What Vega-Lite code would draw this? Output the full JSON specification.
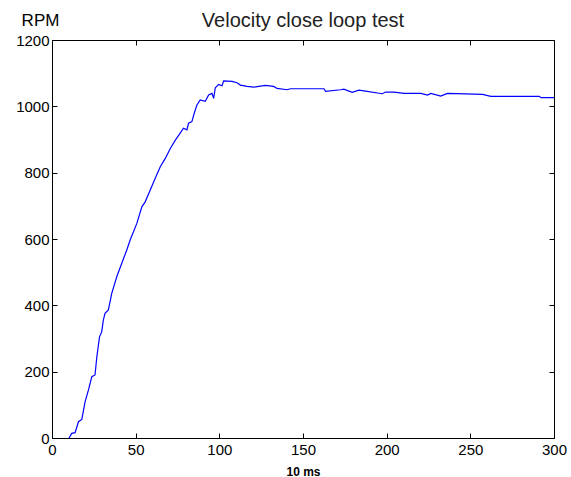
{
  "$schema": "https://vega.github.io/schema/vega-lite/v6.json",
  "width": 502,
  "height": 398,
  "autosize": "none",
  "padding": {"left": 52, "top": 40, "right": 17, "bottom": 39},
  "background": "white",
  "config": {
    "font": "Liberation Sans",
    "view": {"stroke": "black", "strokeWidth": 1},
    "axis": {"grid": false, "domain": false, "tickColor": "black", "tickSize": -5, "labelColor": "black", "labelFontSize": 15, "labelFont": "Liberation Sans", "labelFlush": false, "labelOverlap": false, "titleColor": "black", "titleFont": "Liberation Sans"}
  },
  "title": {"text": "Velocity close loop test", "fontSize": 20, "fontWeight": "normal", "font": "Liberation Sans", "color": "#222222", "offset": -17, "dy": 3},
  "data": {"values": [
    {"t": 10.2, "rpm": 0}, {"t": 11.8, "rpm": 14}, {"t": 13.8, "rpm": 16}, {"t": 15.8, "rpm": 49},
    {"t": 17.8, "rpm": 56}, {"t": 19.8, "rpm": 110}, {"t": 21.8, "rpm": 145}, {"t": 23.8, "rpm": 185},
    {"t": 25.7, "rpm": 190}, {"t": 26.8, "rpm": 245}, {"t": 28.4, "rpm": 305}, {"t": 29.7, "rpm": 320},
    {"t": 30.7, "rpm": 356}, {"t": 31.7, "rpm": 376}, {"t": 33.7, "rpm": 386}, {"t": 35.7, "rpm": 436},
    {"t": 38.7, "rpm": 486}, {"t": 41.7, "rpm": 527}, {"t": 44.7, "rpm": 567}, {"t": 46.7, "rpm": 597},
    {"t": 50.7, "rpm": 647}, {"t": 53.7, "rpm": 697}, {"t": 55.7, "rpm": 712}, {"t": 58.7, "rpm": 748},
    {"t": 61.7, "rpm": 783}, {"t": 64.7, "rpm": 818}, {"t": 67.7, "rpm": 843}, {"t": 70.7, "rpm": 873},
    {"t": 73.7, "rpm": 898}, {"t": 76.6, "rpm": 919}, {"t": 78.6, "rpm": 934}, {"t": 80.6, "rpm": 929},
    {"t": 81.6, "rpm": 949}, {"t": 83.6, "rpm": 954}, {"t": 85, "rpm": 979}, {"t": 86.6, "rpm": 1004},
    {"t": 88.6, "rpm": 1019}, {"t": 91.6, "rpm": 1015}, {"t": 93.6, "rpm": 1034}, {"t": 95.6, "rpm": 1039},
    {"t": 96.6, "rpm": 1024}, {"t": 97.6, "rpm": 1056}, {"t": 99.6, "rpm": 1066}, {"t": 101.6, "rpm": 1062},
    {"t": 102.6, "rpm": 1077}, {"t": 107.6, "rpm": 1075}, {"t": 110.6, "rpm": 1071}, {"t": 112.6, "rpm": 1064},
    {"t": 116.6, "rpm": 1060}, {"t": 120.6, "rpm": 1058}, {"t": 127.5, "rpm": 1063}, {"t": 132.5, "rpm": 1060},
    {"t": 134.5, "rpm": 1054}, {"t": 140.5, "rpm": 1050}, {"t": 142.5, "rpm": 1053}, {"t": 162.5, "rpm": 1053},
    {"t": 163.5, "rpm": 1045}, {"t": 172.5, "rpm": 1050}, {"t": 174.4, "rpm": 1052}, {"t": 179.4, "rpm": 1042},
    {"t": 183.4, "rpm": 1049}, {"t": 187.4, "rpm": 1046}, {"t": 197.4, "rpm": 1038}, {"t": 199.4, "rpm": 1043},
    {"t": 204.4, "rpm": 1043}, {"t": 210.4, "rpm": 1039}, {"t": 220.4, "rpm": 1039}, {"t": 224.4, "rpm": 1034},
    {"t": 226.4, "rpm": 1039}, {"t": 232.3, "rpm": 1031}, {"t": 236.3, "rpm": 1039}, {"t": 257.3, "rpm": 1036},
    {"t": 262.3, "rpm": 1030}, {"t": 291.2, "rpm": 1030}, {"t": 292.2, "rpm": 1026}, {"t": 300, "rpm": 1026}
  ]},
  "layer": [
    {
      "mark": {"type": "line", "color": "#0000ff", "strokeWidth": 1.2},
      "encoding": {
        "x": {"field": "t", "type": "quantitative", "scale": {"domain": [0, 300], "nice": false},
              "axis": {"orient": "bottom", "values": [0, 50, 100, 150, 200, 250, 300], "format": "d", "title": "10 ms", "titleFontSize": 12, "titleFontWeight": "bold", "titlePadding": 9, "labelPadding": 9}},
        "y": {"field": "rpm", "type": "quantitative", "scale": {"domain": [0, 1200], "nice": false},
              "axis": {"orient": "left", "values": [0, 200, 400, 600, 800, 1000, 1200], "format": "d", "title": "RPM", "titleAngle": 0, "titleFontSize": 17, "titleFontWeight": "normal", "titleX": -12, "titleY": -15, "titleAlign": "center", "titleBaseline": "alphabetic", "labelPadding": 8}}
      }
    },
    {
      "mark": {"type": "line", "color": "#0000ff", "strokeWidth": 1.2, "opacity": 0},
      "encoding": {
        "x": {"field": "t", "type": "quantitative", "scale": {"domain": [0, 300], "nice": false},
              "axis": {"orient": "top", "values": [0, 50, 100, 150, 200, 250, 300], "labels": false, "title": null}},
        "y": {"field": "rpm", "type": "quantitative", "scale": {"domain": [0, 1200], "nice": false},
              "axis": {"orient": "right", "values": [0, 200, 400, 600, 800, 1000, 1200], "labels": false, "title": null}}
      }
    }
  ],
  "resolve": {"axis": {"x": "independent", "y": "independent"}}
}
